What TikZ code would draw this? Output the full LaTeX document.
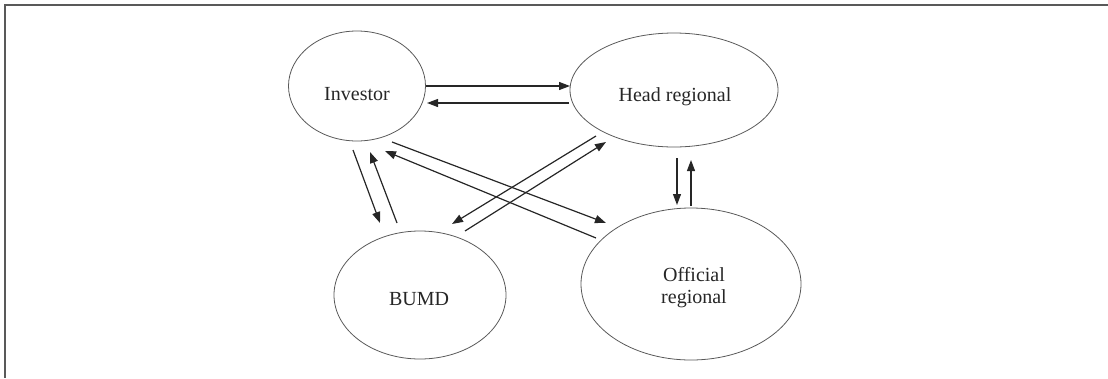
\documentclass[tikz,border=0pt]{standalone}
\usepackage{fontspec}
\setmainfont{Liberation Serif}
\usetikzlibrary{shapes.geometric,arrows.meta}
\begin{document}
\begin{tikzpicture}[x=1pt,y=-1pt,
  ell/.style={ellipse,draw=black!65,line width=0.8pt,inner sep=0pt},
  lbl/.style={font=\fontsize{20}{22}\selectfont,text=black!85,align=center},
  arr/.style={draw=black!85,line width=1.2pt,-{Triangle[length=11pt,width=8pt]}}]
\useasboundingbox (0,0) rectangle (1108,378);
\draw[black!65,line width=2pt] (1108,5) -- (5,5) -- (5,378);
\node[ell,minimum width=137pt,minimum height=110pt] (inv) at (357,86) {};
\node[ell,minimum width=208pt,minimum height=114pt] (head) at (674,90) {};
\node[ell,minimum width=172pt,minimum height=128pt] (bumd) at (420,295) {};
\node[ell,minimum width=220pt,minimum height=152pt] (off) at (691,284) {};
\node[lbl] (tinv) at ([shift={(0,8)}]inv.center) {Investor};
\node[lbl] (thead) at ([shift={(1,7)}]head.center) {Head regional};
\node[lbl] (tbumd) at ([shift={(-1,4)}]bumd.center) {BUMD};
\node[lbl] (toff) at ([shift={(3,4)}]off.center) {Official\\regional};
\draw[arr] ([shift={(69,0)}]inv.center) -- ([shift={(-104,-4)}]head.center);
\draw[arr] ([shift={(-105,13)}]head.center) -- ([shift={(70,17)}]inv.center);
\draw[arr] ([shift={(-4,64)}]inv.center) -- ([shift={(-40,-72)}]bumd.center);
\draw[arr] ([shift={(-23,-72)}]bumd.center) -- ([shift={(13,66)}]inv.center);
\draw[arr] ([shift={(35,56)}]inv.center) -- ([shift={(-85,-61)}]off.center);
\draw[arr] ([shift={(-95,-46)}]off.center) -- ([shift={(28,65)}]inv.center);
\draw[arr] ([shift={(-78,46)}]head.center) -- ([shift={(32,-71)}]bumd.center);
\draw[arr] ([shift={(45,-64)}]bumd.center) -- ([shift={(-68,52)}]head.center);
\draw[arr] ([shift={(3,68)}]head.center) -- ([shift={(-14,-79)}]off.center);
\draw[arr] ([shift={(0,-78)}]off.center) -- ([shift={(17,70)}]head.center);
\end{tikzpicture}
\end{document}
